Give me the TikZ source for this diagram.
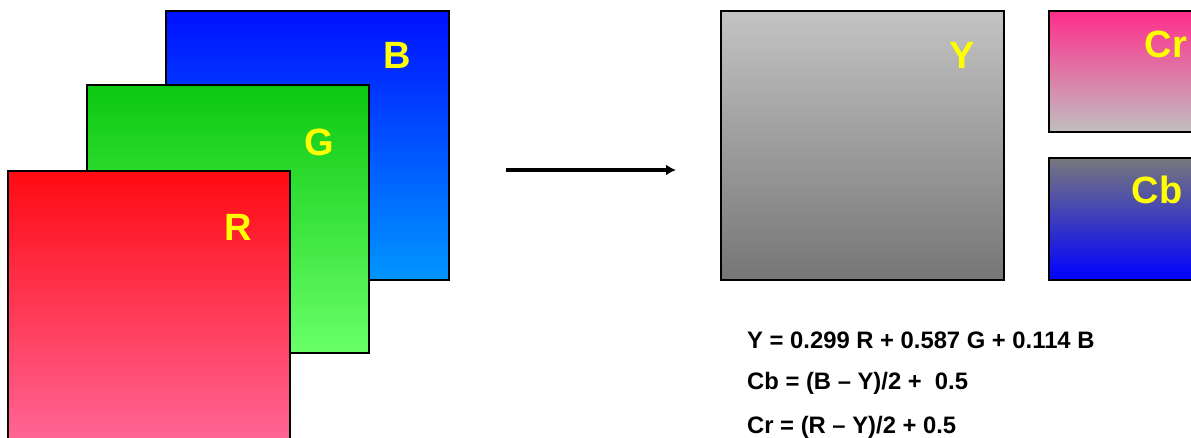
\documentclass[tikz,border=0pt]{standalone}
\usepackage{fontspec}
\setmainfont{Liberation Sans}
\usetikzlibrary{arrows.meta}
\begin{document}
\begin{tikzpicture}[x=1pt,y=-1pt,
  plane/.style={draw=black,line width=1.6pt,anchor=north west,inner sep=0pt,outer sep=0pt},
  lbl/.style={text={rgb,255:red,255;green,255;blue,0},font=\fontsize{38}{40}\selectfont\bfseries,inner sep=0pt},
  eq/.style={anchor=west,font=\fontsize{23.8}{26}\selectfont\bfseries,inner sep=0pt}]
\useasboundingbox (0,0) rectangle (1191,437);
\clip (0,0) rectangle (1191,437);
% RGB planes
\node[plane,minimum width=283pt,minimum height=269pt,top color={rgb,255:red,0;green,16;blue,255},bottom color={rgb,255:red,0;green,150;blue,255}] (B) at (166,11) {};
\node[plane,minimum width=282pt,minimum height=268pt,top color={rgb,255:red,12;green,200;blue,16},bottom color={rgb,255:red,105;green,255;blue,105}] (G) at (87,85) {};
\node[plane,minimum width=282pt,minimum height=280pt,top color={rgb,255:red,255;green,10;blue,18},bottom color={rgb,255:red,255;green,105;blue,155}] (R) at (8,171) {};
\node[lbl] (Bl) at (397,55) {B};
\node[lbl] (Gl) at (319,142) {G};
\node[lbl] (Rl) at (238,227) {R};
% arrow
\coordinate (a1) at (506,170);
\coordinate (a2) at (676,170);
\draw[line width=3.4pt,-{Latex[length=10pt,width=11pt]}] (a1) -- (a2);
% YCbCr planes
\node[plane,minimum width=283pt,minimum height=269pt,top color={rgb,255:red,195;green,195;blue,195},bottom color={rgb,255:red,118;green,118;blue,118}] (Y) at (721,11) {};
\node[plane,minimum width=160pt,minimum height=121pt,top color={rgb,255:red,255;green,45;blue,140},bottom color={rgb,255:red,192;green,192;blue,192}] (Cr) at (1049,11) {};
\node[plane,minimum width=160pt,minimum height=122pt,top color={rgb,255:red,120;green,120;blue,125},bottom color={rgb,255:red,0;green,0;blue,255}] (Cb) at (1049,158) {};
\node[lbl] (Yl) at (962,55) {Y};
\node[lbl] (Crl) at (1166,44) {Cr};
\node[lbl] (Cbl) at (1157,190) {Cb};
% formulas
\node[eq] (e1) at (747,340) {Y = 0.299 R + 0.587 G + 0.114 B};
\node[eq] (e2) at (747,383) {Cb = (B – Y)/2 +~ 0.5};
\node[eq] (e3) at (747,427) {Cr = (R – Y)/2 + 0.5};
\end{tikzpicture}
\end{document}
